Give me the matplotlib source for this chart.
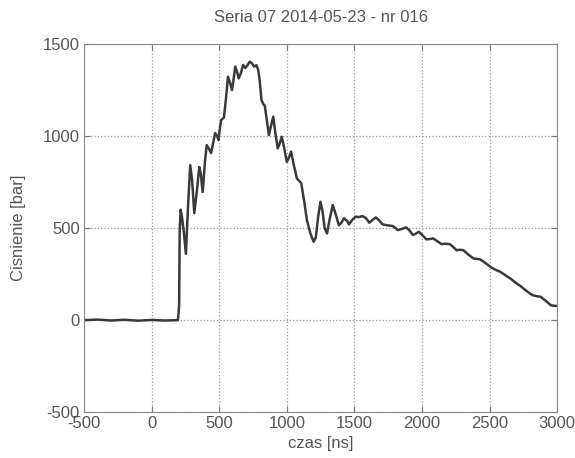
import matplotlib.pyplot as plt

plt.rcParams['font.family'] = ['Liberation Sans', 'DejaVu Sans']
plt.rcParams['axes.unicode_minus'] = False

# time [ns] and pressure [bar]
czas = [-500, -400, -300, -200, -100, 0, 100, 195, 204, 208, 215, 225, 240, 254,
        270, 286, 300, 316, 335, 353, 365, 378, 395, 408, 425, 440, 455, 470,
        485, 495, 505, 515, 535, 550, 565, 580, 595, 605, 619, 632, 644, 660,
        677, 694, 710, 726, 742, 759, 775, 789, 800, 813, 825, 838, 852, 868,
        885, 900, 915, 933, 948, 963, 980, 1000, 1015, 1032, 1050, 1075, 1107,
        1130, 1149, 1175, 1199, 1215, 1232, 1249, 1265, 1280, 1298, 1315, 1340,
        1360, 1385, 1405, 1423, 1445, 1460, 1485, 1510, 1535, 1560, 1585, 1610,
        1635, 1659, 1685, 1709, 1745, 1784, 1805, 1821, 1850, 1883, 1910, 1933,
        1955, 1978, 2005, 2032, 2055, 2082, 2115, 2144, 2175, 2206, 2230, 2256,
        2280, 2306, 2345, 2381, 2405, 2431, 2470, 2505, 2540, 2580, 2615, 2654,
        2690, 2729, 2770, 2816, 2850, 2878, 2915, 2953, 2975, 3000]
cisnienie = [0, 3, -2, 2, -3, 1, -2, 0, 80, 480, 600, 560, 470, 360,
             620, 842, 760, 581, 700, 832, 790, 696, 860, 951, 930, 907, 960, 1016,
             1000, 978, 1040, 1087, 1100, 1200, 1322, 1290, 1250, 1300, 1377, 1350, 1313, 1340,
             1386, 1370, 1385, 1404, 1395, 1377, 1385, 1359, 1300, 1196, 1175, 1163, 1090, 1005,
             1060, 1105, 1020, 933, 960, 996, 940, 860, 880, 915, 850, 770, 744,
             640, 543, 470, 426, 450, 560, 643, 590, 500, 471, 540, 625,
             580, 516, 530, 553, 540, 520, 545, 562, 560, 565, 555, 529,
             545, 558, 540, 520, 515, 511, 500, 489, 495, 504, 485, 462,
             470, 480, 460, 439, 440, 444, 428, 413, 415, 413, 398, 380,
             382, 380, 355, 335, 333, 330, 310, 290, 275, 262, 245, 226,
             205, 185, 160, 136, 130, 127, 105, 81, 78, 77]

tick_x = [-500, 0, 500, 1000, 1500, 2000, 2500, 3000]
tick_y = [-500, 0, 500, 1000, 1500]

fig = plt.figure(figsize=(5.75, 4.58), dpi=100)
ax = fig.add_axes([0.146, 0.1, 0.823, 0.804])
ax.plot(czas, cisnienie, color='#3a3a3a', linewidth=1.8)

ax.set_xlim(-500, 3000)
ax.set_ylim(-500, 1500)
ax.set_xticks(tick_x)
ax.set_yticks(tick_y)
ax.grid(True, linestyle=':', color='#999999', linewidth=0.9)
ax.tick_params(direction='in', top=True, right=True, colors='#777777',
               labelcolor='#555555', labelsize=12, length=4, pad=3)
for s in ax.spines.values():
    s.set_color('#888888')

ax.set_title('Seria 07 2014-05-23 - nr 016', fontsize=12, color='#555555', pad=16)
ax.set_xlabel('czas [ns]', fontsize=12, color='#555555', labelpad=3)
ax.set_ylabel('Cisnienie [bar]', fontsize=12, color='#555555', labelpad=12)

plt.savefig('out.png', dpi=100)
